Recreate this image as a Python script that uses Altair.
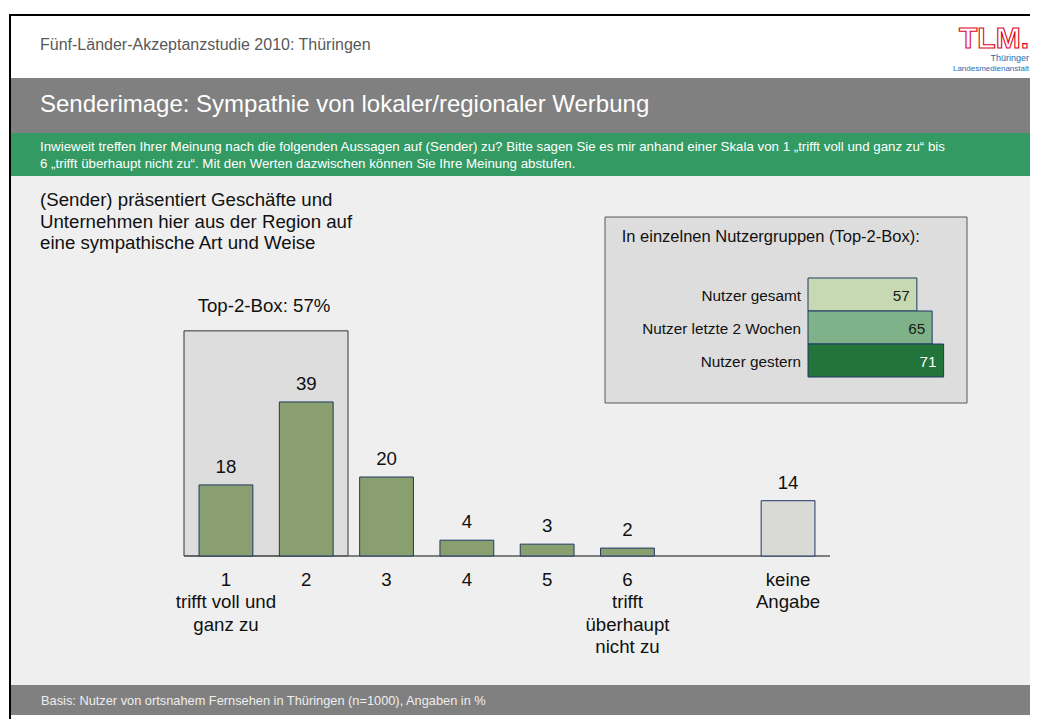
import altair as alt
import pandas as pd

FONT = "Liberation Sans, Arial, Helvetica, sans-serif"

# ---------------- data ----------------
categories = ["1", "2", "3", "4", "5", "6", "gap", "keine Angabe"]
bar_categories = ["1", "2", "3", "4", "5", "6", "keine Angabe"]
bar_values = [18, 39, 20, 4, 3, 2, 14]
bar_fills = ["#8a9f6f"] * 6 + ["#d9d9d5"]
cat_labels = ["1\ntrifft voll und\nganz zu", "2", "3", "4", "5",
              "6\ntrifft\nüberhaupt\nnicht zu", "keine\nAngabe"]
top2_value = [57]
top2_label = "Top-2-Box: 57%"

group_names = ["Nutzer gesamt", "Nutzer letzte 2 Wochen", "Nutzer gestern"]
group_values = [57, 65, 71]
group_colors = ["#c6d9b3", "#80b28a", "#23743a"]
group_text_colors = ["#1a1a1a", "#1a1a1a", "#ffffff"]

header_text = "Fünf-Länder-Akzeptanzstudie 2010: Thüringen"
title_text = "Senderimage: Sympathie von lokaler/regionaler Werbung"
question_text = ("Inwieweit treffen Ihrer Meinung nach die folgenden Aussagen auf (Sender) zu? "
                 "Bitte sagen Sie es mir anhand einer Skala von 1 \u201etrifft voll und ganz zu\u201c bis\n"
                 "6 \u201etrifft überhaupt nicht zu\u201c. Mit den Werten dazwischen können Sie Ihre Meinung abstufen.")
statement_text = ("(Sender) präsentiert Geschäfte und\nUnternehmen hier aus der Region auf\n"
                  "eine sympathische Art und Weise")
inset_title = "In einzelnen Nutzergruppen (Top-2-Box):"
footer_text = "Basis: Nutzer von ortsnahem Fernsehen in Thüringen (n=1000), Angaben in %"
logo_main = "TLM."
logo_line1 = "Thüringer"
logo_line2 = "Landesmedienanstalt"

W, H = 1022, 711
dummy = pd.DataFrame({"d": [0]})


def box(x1, x2, y1, y2, fill, stroke=None, sw=1):
    kw = dict(fill=fill, opacity=1)
    if stroke:
        kw.update(stroke=stroke, strokeWidth=sw)
    else:
        kw.update(strokeWidth=0)
    return alt.Chart(dummy).mark_rect(**kw).encode(
        x=alt.value(x1), x2=alt.value(x2), y=alt.value(y1), y2=alt.value(y2))


def txt(x, y, s, size, color, align="left", baseline="alphabetic", font=FONT,
        weight="normal", lh=None, **extra):
    kw = dict(fontSize=size, color=color, align=align, baseline=baseline,
              font=font, fontWeight=weight, lineBreak="\n")
    if lh:
        kw["lineHeight"] = lh
    kw.update(extra)
    return alt.Chart(dummy).mark_text(**kw).encode(
        x=alt.value(x), y=alt.value(y), text=alt.value(s))


decor = [
    # frame / bands
    box(3, W, 70, 125, "#808080"),
    box(3, W, 125, 168, "#349a64"),
    box(3, W, 168, 677, "#efefef"),
    box(3, W, 677, 707, "#808080"),
    box(1, W, 6, 8, "#000000"),
    box(1, 3, 6, H, "#000000"),
    # texts
    txt(32, 42, header_text, 16, "#595959"),
    txt(32, 104, title_text, 24, "#ffffff"),
    txt(32, 142.7, question_text, 13.3, "#ffffff", lh=17.6),
    txt(32, 198, statement_text, 18.67, "#111111", lh=21.5),
    txt(33, 697, footer_text, 12.8, "#eeeeee"),
    # logo
    txt(1021, 40, logo_main, 30, "#ffffff", align="right", weight="bold",
        stroke="#e2001a", strokeWidth=1.1),
    txt(1021, 53, logo_line1, 9, "#2c6cb0", align="right"),
    txt(1021, 63, logo_line2, 8, "#2c6cb0", align="right"),
    # inset frame + title
    box(597, 959, 209, 395, "#dddddd", stroke="#595959", sw=1),
    txt(613.7, 234.3, inset_title, 16.5, "#111111"),
    # top-2-box caption
    txt(256, 304.3, top2_label, 18.67, "#111111", align="center"),
]

# ---------------- main bar chart ----------------
xs = alt.Scale(domain=categories, range=[177.8, 820.2], paddingInner=0.33, paddingOuter=0.165)
ys = alt.Scale(domain=[0, 100], range=[548, 153], nice=False, zero=True)

main_df = pd.DataFrame({"cat": bar_categories, "value": bar_values,
                        "fill": bar_fills, "label": cat_labels})
top_df = pd.DataFrame({"v": top2_value})

top_box = alt.Chart(top_df).mark_rect(fill="#dddddd", stroke="#333333", strokeWidth=1).encode(
    x=alt.value(176), x2=alt.value(340),
    y=alt.Y("v:Q", scale=ys, axis=None), y2=alt.datum(0))

base_rule = alt.Chart(dummy).mark_rule(color="#5a5a5a", strokeWidth=1.5).encode(
    x=alt.value(176), x2=alt.value(822), y=alt.Y(datum=0, type="quantitative", scale=ys, axis=None))

bars = alt.Chart(main_df).mark_bar(stroke="#1f3864", strokeWidth=1).encode(
    x=alt.X("cat:N", scale=xs, axis=None),
    y=alt.Y("value:Q", scale=ys, axis=None),
    fill=alt.Fill("fill:N", scale=None))

val_labels = alt.Chart(main_df).mark_text(
    baseline="alphabetic", dy=-12, fontSize=18.67, font=FONT, color="#111111").encode(
    x=alt.X("cat:N", scale=xs, axis=None),
    y=alt.Y("value:Q", scale=ys, axis=None),
    text=alt.Text("value:Q"))

cat_text = alt.Chart(main_df).mark_text(
    baseline="alphabetic", fontSize=18.67, font=FONT, color="#111111",
    lineBreak="\n", lineHeight=22.5).encode(
    x=alt.X("cat:N", scale=xs, axis=None),
    y=alt.value(577.7),
    text=alt.Text("label:N"))

main_layer = alt.layer(top_box, base_rule, bars, val_labels, cat_text)

# ---------------- inset: user groups ----------------
g_df = pd.DataFrame({"name": group_names, "value": group_values,
                     "color": group_colors, "tcolor": group_text_colors})
gx = alt.Scale(domain=[0, 100], range=[800, 991], nice=False, zero=True)
gy = alt.Scale(domain=group_names, range=[270, 369], paddingInner=0, paddingOuter=0)

g_bars = alt.Chart(g_df).mark_bar(stroke="#1f3864", strokeWidth=1).encode(
    x=alt.X("value:Q", scale=gx, axis=None),
    y=alt.Y("name:N", scale=gy, axis=None),
    fill=alt.Fill("color:N", scale=None))

g_vals = alt.Chart(g_df).mark_text(align="right", baseline="middle", dx=-7, dy=1,
                                   fontSize=15.3, font=FONT).encode(
    x=alt.X("value:Q", scale=gx, axis=None),
    y=alt.Y("name:N", scale=gy, axis=None),
    text=alt.Text("value:Q"),
    color=alt.Color("tcolor:N", scale=None))

g_names = alt.Chart(g_df).mark_text(align="right", baseline="middle", dy=1,
                                    fontSize=15.3, font=FONT, color="#111111").encode(
    x=alt.value(793),
    y=alt.Y("name:N", scale=gy, axis=None),
    text=alt.Text("name:N"))

inset_layer = alt.layer(g_bars, g_vals, g_names)

chart = alt.layer(*decor, main_layer, inset_layer).resolve_scale(
    x="independent", y="independent"
).properties(
    width=W, height=H, padding=0, background="#ffffff",
    autosize=alt.AutoSizeParams(type="none")
).configure_view(stroke=None)

chart.save("out.html", embed_options={"renderer": "svg", "actions": False})
